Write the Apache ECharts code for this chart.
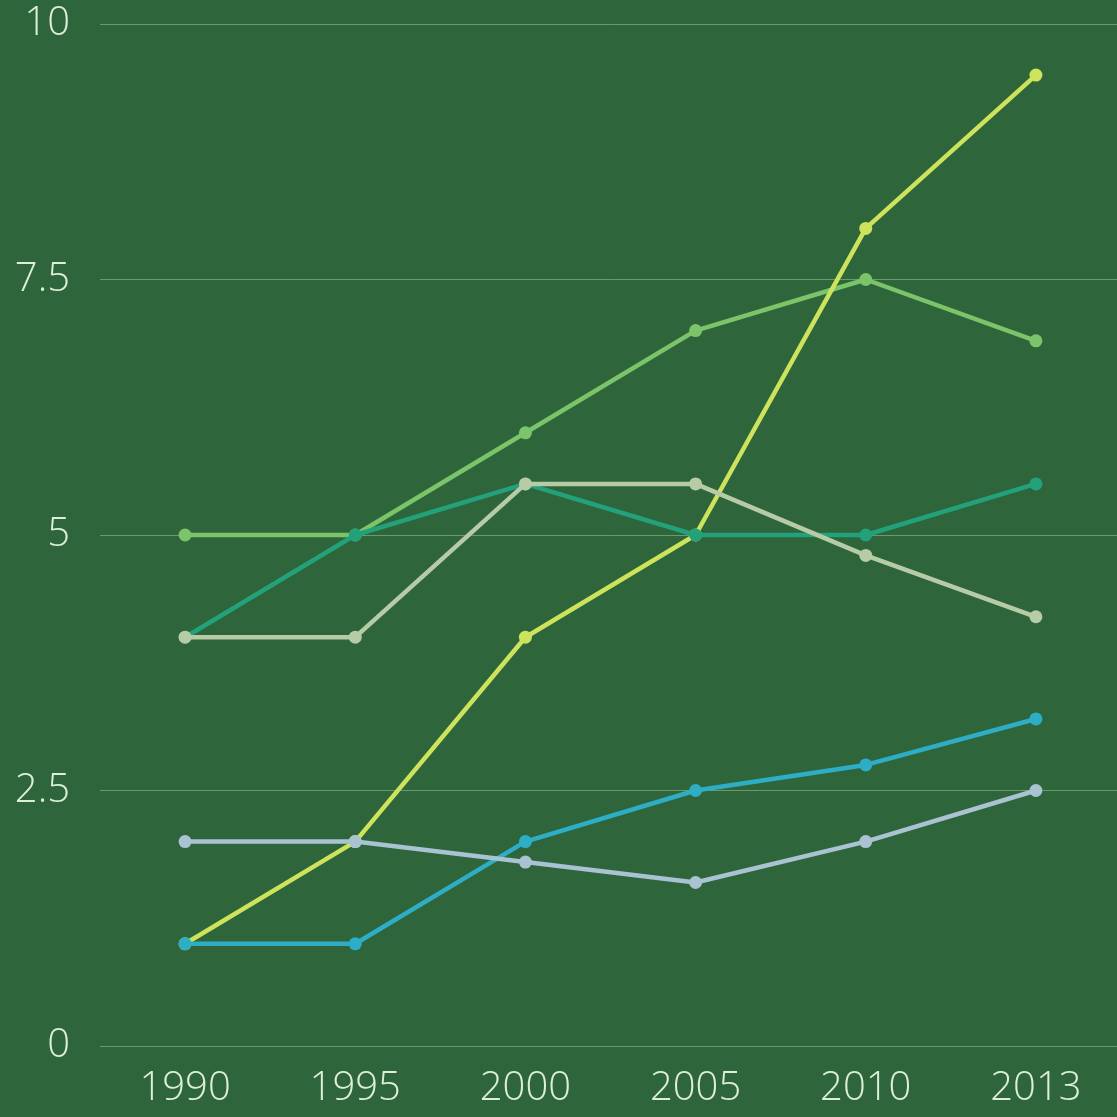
<!DOCTYPE html>
<html><head><meta charset="utf-8">
<script src="https://cdn.jsdelivr.net/npm/echarts@6/dist/echarts.min.js"></script>
<style>html,body{margin:0;padding:0;background:#2e653b;overflow:hidden;}#c{width:1121px;height:1117px;}</style>
</head><body><div id="c"></div>
<script>
const years = ['1990','1995','2000','2005','2010','2013'];
const seriesA = [5, 5, 6, 7, 7.5, 6.9];
const seriesB = [4, 5, 5.5, 5, 5, 5.5];
const seriesC = [4, 4, 5.5, 5.5, 4.8, 4.2];
const seriesD = [1, 2, 4, 5, 8, 9.5];
const seriesE = [1, 1, 2, 2.5, 2.75, 3.2];
const seriesF = [2, 2, 1.8, 1.6, 2, 2.5];

const defs = [
  {name:'A', data:seriesA, color:'#7cc46a', z:2},
  {name:'D', data:seriesD, color:'#cee35c', z:3},
  {name:'B', data:seriesB, color:'#22a17b', z:4},
  {name:'C', data:seriesC, color:'#b6cba6', z:5},
  {name:'E', data:seriesE, color:'#2eadc6', z:6},
  {name:'F', data:seriesF, color:'#a9c3d3', z:7}
];
const chart = echarts.init(document.getElementById('c'));
const font = {fontFamily:'Open Sans', fontWeight:300, fontSize:40, color:'#dcefd9'};
chart.setOption({
  backgroundColor:'#2e653b',
  animation:false,
  grid:{left:100, right:0, top:24, bottom:71},
  xAxis:{type:'category', data:years, boundaryGap:true,
    axisLine:{show:false}, axisTick:{show:false},
    axisLabel:Object.assign({margin:23}, font)},
  yAxis:{type:'value', min:0, max:10, interval:2.5,
    axisLine:{show:false}, axisTick:{show:false},
    splitLine:{lineStyle:{color:'#6a9a6c', width:1}},
    axisLabel:Object.assign({margin:30}, font)},
  series: defs.map(d=>({type:'line', name:d.name, data:d.data, z:d.z,
    symbol:'circle', symbolSize:13,
    lineStyle:{color:d.color, width:4.5},
    itemStyle:{color:d.color}}))
});
</script></body></html>
